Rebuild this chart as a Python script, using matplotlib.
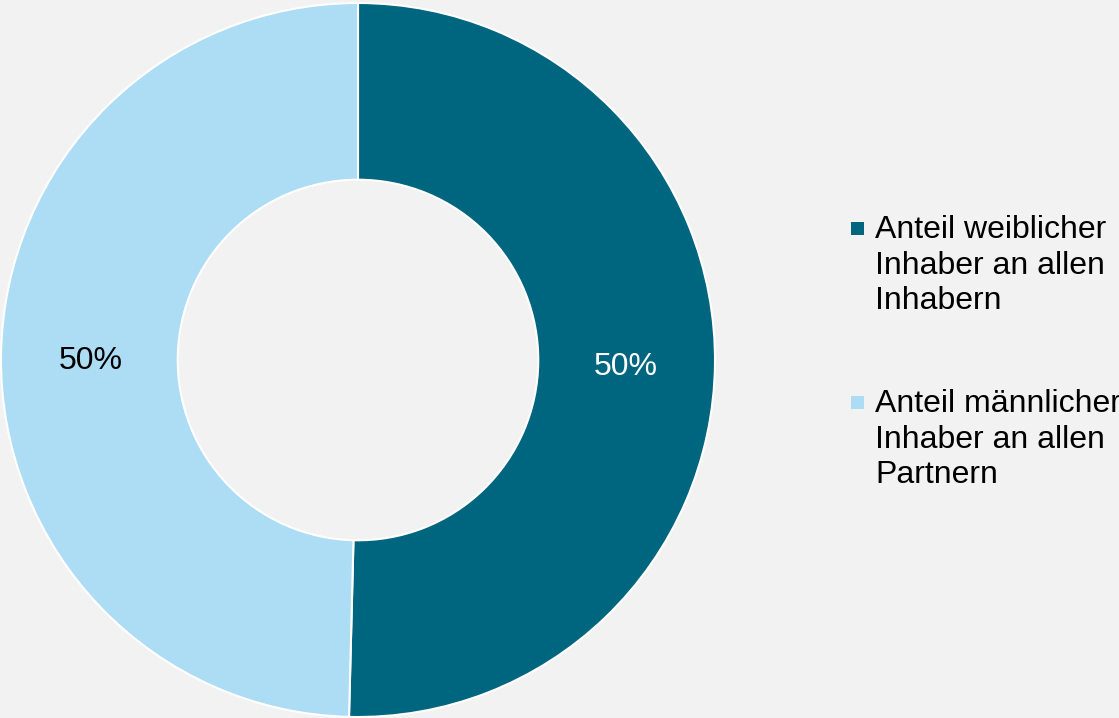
import matplotlib.pyplot as plt
from matplotlib.patches import Rectangle

plt.rcParams['font.family'] = ['Liberation Sans', 'DejaVu Sans']

labels = ['Anteil weiblicher\nInhaber an allen\nInhabern',
          'Anteil männlicher\nInhaber an allen\nPartnern']
values = [50.4, 49.6]
colors = ['#00657F', '#ADDCF5']
label_colors = ['white', 'black']

W, H = 1119, 718
fig = plt.figure(figsize=(W / 100, H / 100), dpi=100)
fig.patch.set_facecolor('#F2F2F2')

# donut axes, centre at (358, 360) px, radius 357 px
cx, cy, r = 358, 360, 357
ax = fig.add_axes([(cx - r) / W, (H - cy - r) / H, 2 * r / W, 2 * r / H])
ax.set_facecolor('#F2F2F2')

wedges, texts, autotexts = ax.pie(
    values, colors=colors, startangle=90, counterclock=False,
    radius=1, autopct='%.0f%%', pctdistance=0.75,
    wedgeprops=dict(width=0.495, edgecolor='white', linewidth=1.5),
    textprops=dict(fontsize=23))
for t, c in zip(autotexts, label_colors):
    t.set_color(c)
    x, y = t.get_position()
    t.set_position((x, y - 4 / r))
ax.set_xlim(-1, 1)
ax.set_ylim(-1, 1)
ax.set_aspect('equal')
ax.axis('off')

# legend drawn by hand so the marker sits on the first line
legend_tops = [215, 389]
for lab, col, top in zip(labels, colors, legend_tops):
    fig.patches.append(Rectangle((851 / W, (H - top - 20) / H), 13 / W, 13 / H,
                                 transform=fig.transFigure, facecolor=col,
                                 edgecolor='none'))
    fig.text(875 / W, (H - top) / H, lab, fontsize=23, va='top', ha='left',
             linespacing=1.245, color='black')

fig.savefig('out.png', dpi=100, facecolor=fig.get_facecolor())
